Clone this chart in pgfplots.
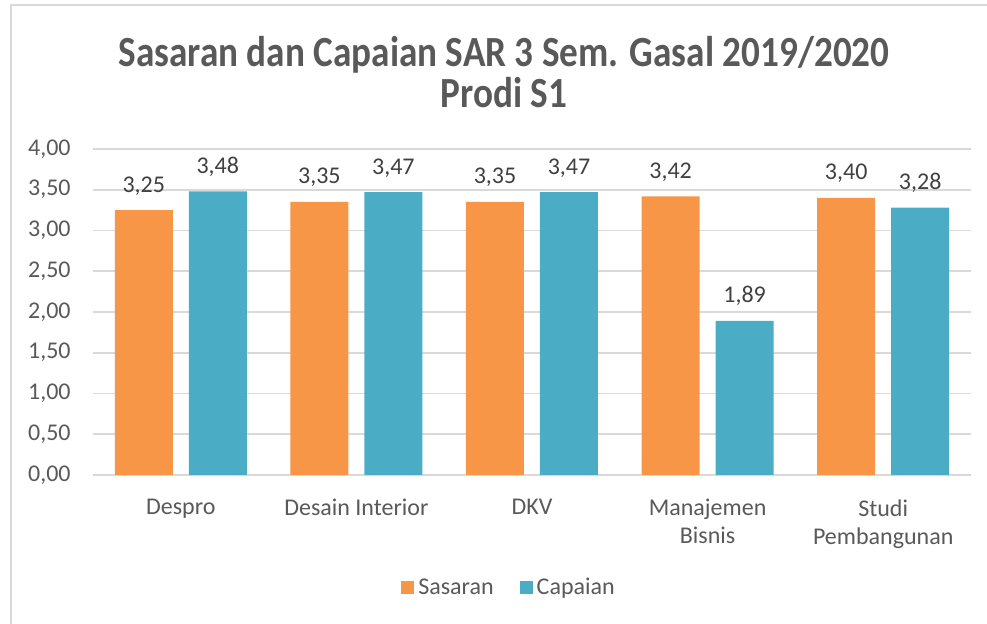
\documentclass[border=0pt]{standalone}
\usepackage{pgfplots}
\pgfplotsset{compat=1.18}
\usepackage{graphicx}
\usepackage{fontspec}
\setmainfont{Carlito}
\definecolor{sas}{HTML}{F79646}
\definecolor{cap}{HTML}{4BACC6}
\definecolor{txt}{HTML}{595959}
\definecolor{lbl}{HTML}{404040}
\definecolor{grd}{HTML}{D9D9D9}
\newcommand{\lfont}{\fontsize{12}{14}\selectfont}
\begin{document}
\begin{tikzpicture}
\useasboundingbox (0pt,0pt) rectangle (493.5pt,312pt);
\draw[grd, line width=0.8pt] (5.5pt,0pt) -- (5.5pt,309.5pt) -- (493.5pt,309.5pt);
\node[anchor=base, font=\bfseries\fontsize{21.5}{25}\selectfont, text=txt, inner sep=0pt] at (252pt,278.5pt) {\scalebox{0.865}[1]{Sasaran dan Capaian SAR 3 Sem. Gasal 2019/2020}};
\node[anchor=base, font=\bfseries\fontsize{21.5}{25}\selectfont, text=txt, inner sep=0pt] at (252pt,258pt) {\scalebox{0.865}[1]{Prodi S1}};
\begin{axis}[
  at={(46.5pt,74.5pt)}, anchor=south west,
  width=439pt, height=163pt, scale only axis,
  xmin=-0.5, xmax=4.5, ymin=0, ymax=4,
  ybar=8pt, bar width=29pt,
  xtick={0,1,2,3,4},
  xticklabels={Despro, Desain Interior, DKV, {Manajemen\\Bisnis}, {Studi\\Pembangunan}},
  ytick={0,0.5,1,1.5,2,2.5,3,3.5,4},
  yticklabel style={/pgf/number format/.cd, fixed, fixed zerofill, precision=2, use comma, assume math mode=true, /tikz/.cd, font=\lfont, text=txt, inner sep=0pt, anchor=east, xshift=-11pt},
  xticklabel style={font=\lfont, text=txt, align=center, inner sep=0pt, anchor=north, yshift=-12pt},
  ymajorgrids, grid style={grd, line width=0.8pt},
  axis line style={draw=none},
  major tick length=0pt,
  nodes near coords={\pgfmathprintnumber[fixed,fixed zerofill,precision=2,use comma,assume math mode=true]{\pgfplotspointmeta}},
  every node near coord/.append style={font=\lfont, text=lbl, inner sep=0pt, anchor=base, yshift=9pt},
  legend image code/.code={\fill[#1] (0pt,-3.25pt) rectangle (6.5pt,3.25pt);},
  legend style={at={(0.475,-0.3466)}, anchor=center, draw=none, fill=none, legend columns=2, font=\lfont, text=txt, /tikz/every even column/.append style={column sep=11pt}},
]
\addplot[fill=sas, draw=none] coordinates {(0,3.25) (1,3.35) (2,3.35) (3,3.42) (4,3.40)};
\addplot[fill=cap, draw=none] coordinates {(0,3.48) (1,3.47) (2,3.47) (3,1.89) (4,3.28)};
\legend{Sasaran, Capaian}
\end{axis}
\end{tikzpicture}
\end{document}
